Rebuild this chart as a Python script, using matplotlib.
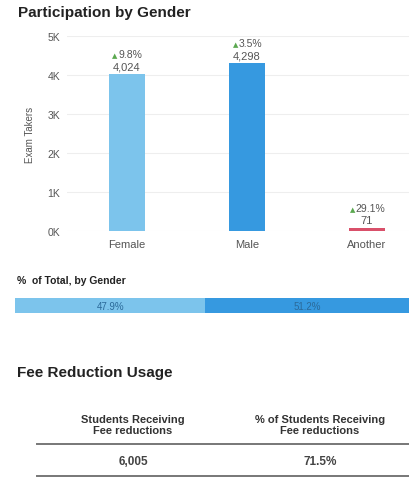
import matplotlib
matplotlib.use("Agg")
import matplotlib.pyplot as plt
from matplotlib.ticker import FuncFormatter
from matplotlib.transforms import offset_copy

plt.rcParams['font.family'] = ['Liberation Sans', 'DejaVu Sans']

# data
genders = ['Female', 'Male', 'Another']
takers = [4024, 4298, 71]
change = ['9.8%', '3.5%', '29.1%']
bar_colors = ['#7cc4ec', '#3699e0', '#d9506a']
share_labels = ['47.9%', '51.2%', '']

fee_headers = [['Students Receiving', 'Fee reductions'],
               ['% of Students Receiving', 'Fee reductions']]
fee_values = ['6,005', '71.5%']

W, H = 410, 481
fig = plt.figure(figsize=(W / 100, H / 100), dpi=100, facecolor='white')


def box(x0, y0, x1, y1):
    # pixel box (top-left origin) -> figure fraction
    return [x0 / W, 1 - y1 / H, (x1 - x0) / W, (y1 - y0) / H]


# overlay for titles / table, pixel coords
ov = fig.add_axes([0, 0, 1, 1])
ov.set_xlim(0, W)
ov.set_ylim(H, 0)
ov.axis('off')

ov.text(18, 13, 'Participation by Gender', fontsize=11, fontweight='bold',
        color='#222222', va='center', ha='left')

# main bar chart
ax = fig.add_axes(box(67, 37, 410, 232))
x = list(range(len(genders)))
ax.bar(x, takers, width=0.3, color=bar_colors, zorder=3)
ax.set_xlim(-0.5, 2.358)
ax.set_ylim(0, 5000)
ax.set_yticks([0, 1000, 2000, 3000, 4000, 5000])
ax.yaxis.set_major_formatter(FuncFormatter(lambda v, p: '%dK' % (v / 1000)))
ax.set_xticks(x)
ax.set_xticklabels(genders)
ax.tick_params(length=0, labelsize=7.5, labelcolor='#555555')
ax.tick_params(axis='y', pad=5)
ax.tick_params(axis='x', labelsize=8, pad=6)
ax.grid(axis='y', color='#eeeeee', linewidth=0.8, zorder=0)
for s in ax.spines.values():
    s.set_visible(False)
ax.set_ylabel('Exam Takers', fontsize=7, color='#555555', labelpad=9)

fig.canvas.draw()
r = fig.canvas.get_renderer()
for xi, v, c in zip(x, takers, change):
    ax.annotate('{:,}'.format(v), (xi, v), xytext=(0, 2), textcoords='offset points',
                ha='center', va='bottom', fontsize=8, color='#555555')
    pct = ax.annotate(c, (xi, v), xytext=(2.5, 11), textcoords='offset points',
                      ha='center', va='bottom', fontsize=7.5, color='#555555')
    w = pct.get_window_extent(r).width * 72 / 100
    ax.annotate('\u25B2', (xi, v), xytext=(2.5 - w / 2 - 0.5, 11.8), textcoords='offset points',
                ha='right', va='bottom', fontsize=5, color='#5aa84f',
                family='DejaVu Sans')

ov.text(17, 281, '%  of Total, by Gender', fontsize=7.5, fontweight='bold',
        color='#222222', va='center', ha='left')

# stacked share bar
total = sum(takers)
shares = [v / total * 100 for v in takers]
bx = fig.add_axes(box(15, 299, 412, 314))
left = 0
for s, c, lab in zip(shares, bar_colors, share_labels):
    bx.barh(0, s, left=left, height=1, color=c)
    if lab:
        bx.text(left + s / 2, 0, lab, ha='center', va='center', fontsize=7, color='#2b6a9a')
    left += s
bx.set_xlim(0, 100)
bx.set_ylim(-0.5, 0.5)
bx.axis('off')

# fee reduction table
ov.text(17, 373, 'Fee Reduction Usage', fontsize=11, fontweight='bold',
        color='#222222', va='center', ha='left')
cols = [133, 320]
for cx, hdr, val in zip(cols, fee_headers, fee_values):
    ov.text(cx, 420, hdr[0], fontsize=8, fontweight='bold', color='#333333',
            ha='center', va='center')
    ov.text(cx, 431, hdr[1], fontsize=8, fontweight='bold', color='#333333',
            ha='center', va='center')
    ov.text(cx, 462, val, fontsize=8.5, fontweight='bold', color='#444444',
            ha='center', va='center')
ov.plot([37, 410], [445, 445], color='#777777', linewidth=1.4)
ov.plot([37, 410], [477, 477], color='#777777', linewidth=1.4)

fig.savefig('out.png', dpi=100, facecolor='white')
